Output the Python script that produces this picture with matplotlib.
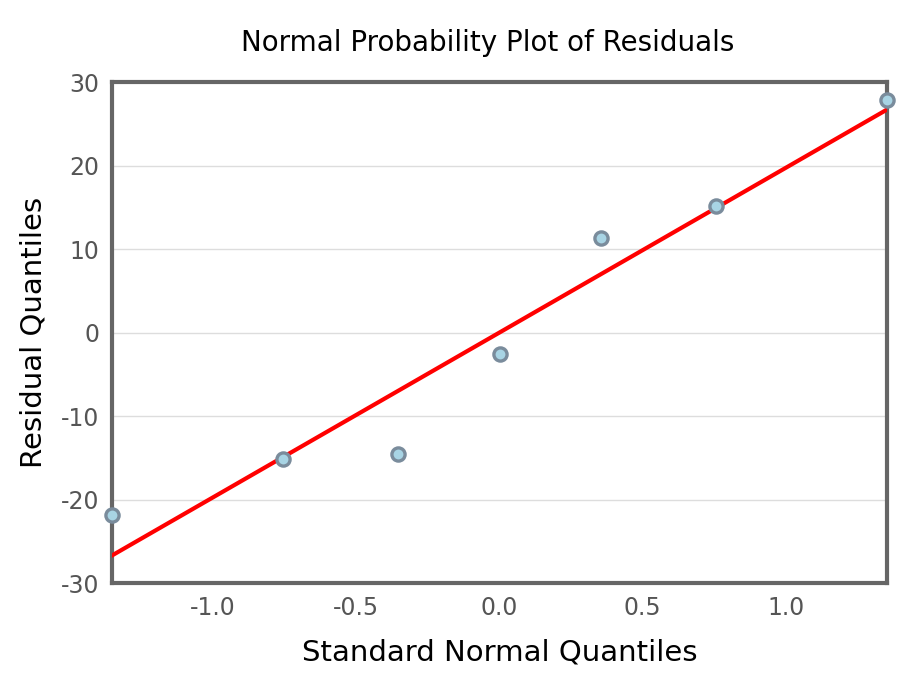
import matplotlib
matplotlib.use("Agg")
import matplotlib.pyplot as plt

# Normal quantiles (Blom) and sorted residuals
theoretical_q = [-1.352, -0.757, -0.353, 0.0, 0.353, 0.757, 1.352]
residual_q = [-21.8, -15.2, -14.6, -2.6, 11.3, 15.2, 27.8]

# reference line endpoints
line_x = [-1.352, 1.352]
line_y = [-26.7, 26.7]

x_ticks = [-1.0, -0.5, 0.0, 0.5, 1.0]
y_ticks = [-30, -20, -10, 0, 10, 20, 30]

plt.rcParams["font.family"] = ["DejaVu Sans"]
plt.rcParams["axes.unicode_minus"] = False

fig = plt.figure(figsize=(9.12, 6.8), dpi=100)
ax = fig.add_axes([0.1228, 0.1426, 0.8498, 0.7368])

ax.plot(line_x, line_y, color="#ff0000", linewidth=3, zorder=3)
ax.scatter(theoretical_q, residual_q, s=90, facecolor="#a8d4e4",
           edgecolor="#7a8c9c", linewidth=2.4, zorder=4, clip_on=False)

ax.set_xlim(line_x[0], line_x[1])
ax.set_ylim(-30, 30)
ax.set_xticks(x_ticks)
ax.set_xticklabels([f"{v:.1f}" for v in x_ticks])
ax.set_yticks(y_ticks)

ax.grid(axis="y", color="#dddddd", linewidth=1)
ax.set_axisbelow(True)
for s in ax.spines.values():
    s.set_color("#666666")
    s.set_linewidth(3)

ax.tick_params(length=0, labelsize=17, colors="#555555", pad=9)

ax.set_title("Normal Probability Plot of Residuals", fontsize=20, pad=22,
             color="#000000", x=0.485)
ax.set_xlabel("Standard Normal Quantiles", fontsize=21, labelpad=14)
ax.set_ylabel("Residual Quantiles", fontsize=21, labelpad=10)

fig.savefig("out.png", dpi=100, facecolor="white")
